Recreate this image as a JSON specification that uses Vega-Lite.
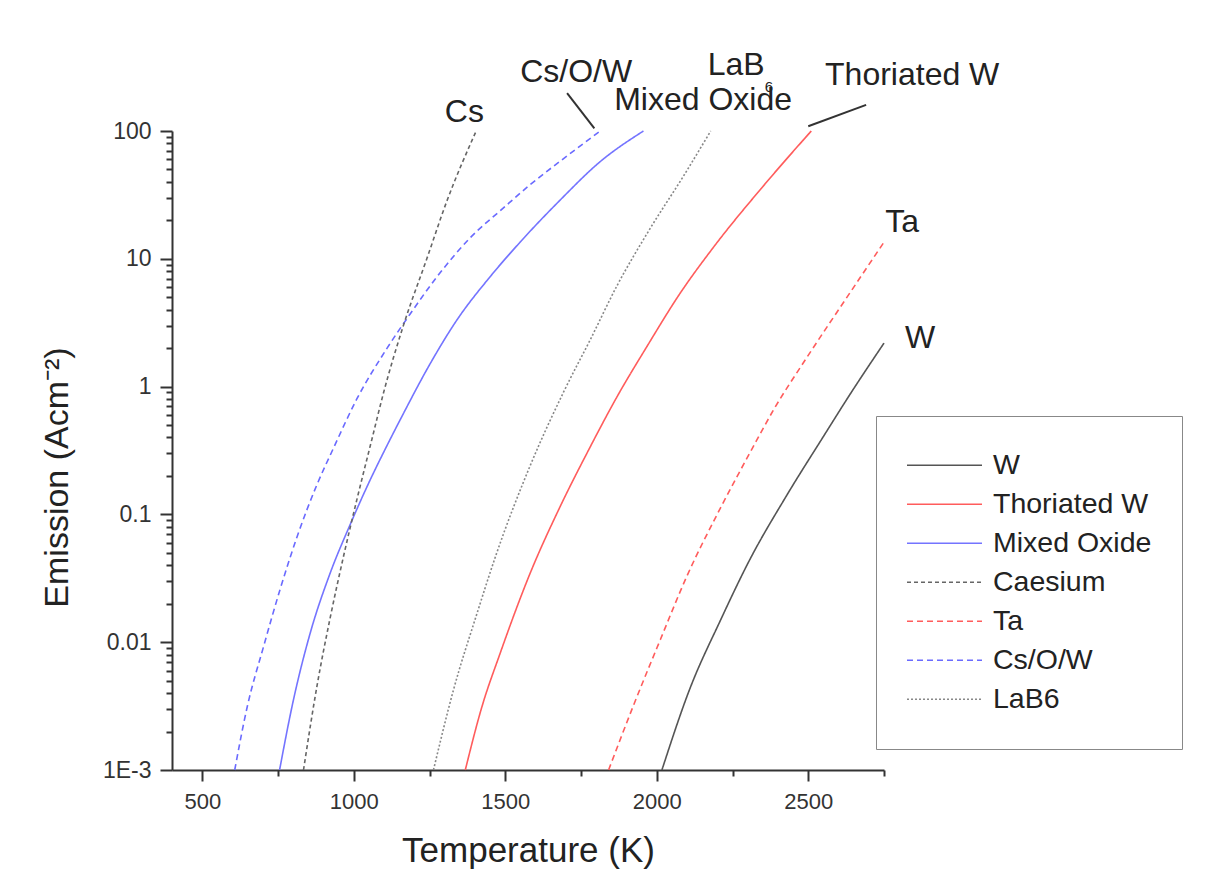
{
  "$schema": "https://vega.github.io/schema/vega-lite/v6.json",
  "width": 712,
  "height": 639,
  "autosize": {"type": "none"},
  "padding": {"left": 172, "top": 131, "right": 325, "bottom": 125},
  "background": "white",
  "config": {"view": {"stroke": null}, "font": "Liberation Sans"},
  "datasets": {
    "curves": [
      {"s": "Cs/O/W", "T": 607, "J": 0.001}, {"s": "Cs/O/W", "T": 648, "J": 0.0031}, {"s": "Cs/O/W", "T": 702, "J": 0.0092},
      {"s": "Cs/O/W", "T": 757, "J": 0.026}, {"s": "Cs/O/W", "T": 812, "J": 0.066}, {"s": "Cs/O/W", "T": 878, "J": 0.17},
      {"s": "Cs/O/W", "T": 933, "J": 0.33}, {"s": "Cs/O/W", "T": 1010, "J": 0.8}, {"s": "Cs/O/W", "T": 1110, "J": 2.0},
      {"s": "Cs/O/W", "T": 1186, "J": 3.7}, {"s": "Cs/O/W", "T": 1274, "J": 7.2}, {"s": "Cs/O/W", "T": 1383, "J": 14.5},
      {"s": "Cs/O/W", "T": 1494, "J": 25}, {"s": "Cs/O/W", "T": 1582, "J": 38}, {"s": "Cs/O/W", "T": 1681, "J": 58},
      {"s": "Cs/O/W", "T": 1813, "J": 100},
      {"s": "Mixed Oxide", "T": 755, "J": 0.001}, {"s": "Mixed Oxide", "T": 801, "J": 0.00355}, {"s": "Mixed Oxide", "T": 856, "J": 0.01175},
      {"s": "Mixed Oxide", "T": 922, "J": 0.0347}, {"s": "Mixed Oxide", "T": 988, "J": 0.0832}, {"s": "Mixed Oxide", "T": 1054, "J": 0.186},
      {"s": "Mixed Oxide", "T": 1110, "J": 0.347}, {"s": "Mixed Oxide", "T": 1164, "J": 0.617}, {"s": "Mixed Oxide", "T": 1252, "J": 1.51},
      {"s": "Mixed Oxide", "T": 1340, "J": 3.31}, {"s": "Mixed Oxide", "T": 1450, "J": 7.24}, {"s": "Mixed Oxide", "T": 1549, "J": 13.5},
      {"s": "Mixed Oxide", "T": 1681, "J": 28.8}, {"s": "Mixed Oxide", "T": 1813, "J": 57.5}, {"s": "Mixed Oxide", "T": 1956, "J": 100},
      {"s": "Caesium", "T": 834, "J": 0.001}, {"s": "Caesium", "T": 878, "J": 0.00447}, {"s": "Caesium", "T": 922, "J": 0.0155},
      {"s": "Caesium", "T": 966, "J": 0.0468}, {"s": "Caesium", "T": 1010, "J": 0.13}, {"s": "Caesium", "T": 1060, "J": 0.389},
      {"s": "Caesium", "T": 1098, "J": 0.891}, {"s": "Caesium", "T": 1164, "J": 3.02}, {"s": "Caesium", "T": 1241, "J": 10},
      {"s": "Caesium", "T": 1307, "J": 28.2}, {"s": "Caesium", "T": 1404, "J": 100},
      {"s": "LaB6", "T": 1263, "J": 0.001}, {"s": "LaB6", "T": 1329, "J": 0.00423}, {"s": "LaB6", "T": 1406, "J": 0.0166},
      {"s": "LaB6", "T": 1472, "J": 0.0501}, {"s": "LaB6", "T": 1582, "J": 0.24}, {"s": "LaB6", "T": 1693, "J": 0.912},
      {"s": "LaB6", "T": 1781, "J": 2.34}, {"s": "LaB6", "T": 1869, "J": 6.17}, {"s": "LaB6", "T": 1979, "J": 17.4},
      {"s": "LaB6", "T": 2089, "J": 44.7}, {"s": "LaB6", "T": 2178, "J": 100},
      {"s": "Thoriated W", "T": 1368, "J": 0.001}, {"s": "Thoriated W", "T": 1423, "J": 0.00313}, {"s": "Thoriated W", "T": 1483, "J": 0.00818},
      {"s": "Thoriated W", "T": 1582, "J": 0.0346}, {"s": "Thoriated W", "T": 1681, "J": 0.115}, {"s": "Thoriated W", "T": 1775, "J": 0.319},
      {"s": "Thoriated W", "T": 1869, "J": 0.834}, {"s": "Thoriated W", "T": 1967, "J": 2.05}, {"s": "Thoriated W", "T": 2077, "J": 5.37},
      {"s": "Thoriated W", "T": 2187, "J": 12.3}, {"s": "Thoriated W", "T": 2352, "J": 37.2}, {"s": "Thoriated W", "T": 2510, "J": 100},
      {"s": "Ta", "T": 1841, "J": 0.001}, {"s": "Ta", "T": 1924, "J": 0.00324}, {"s": "Ta", "T": 2012, "J": 0.0105},
      {"s": "Ta", "T": 2100, "J": 0.0331}, {"s": "Ta", "T": 2210, "J": 0.112}, {"s": "Ta", "T": 2314, "J": 0.324},
      {"s": "Ta", "T": 2386, "J": 0.661}, {"s": "Ta", "T": 2496, "J": 1.7}, {"s": "Ta", "T": 2628, "J": 5.01},
      {"s": "Ta", "T": 2750, "J": 13.5},
      {"s": "W", "T": 2017, "J": 0.001}, {"s": "W", "T": 2110, "J": 0.00437}, {"s": "W", "T": 2210, "J": 0.0148},
      {"s": "W", "T": 2308, "J": 0.0447}, {"s": "W", "T": 2429, "J": 0.141}, {"s": "W", "T": 2550, "J": 0.407},
      {"s": "W", "T": 2638, "J": 0.871}, {"s": "W", "T": 2750, "J": 2.19}
    ],
    "labels": [
      {"txt": "Cs", "T": 1365, "J": 141},
      {"txt": "Cs/O/W", "T": 1734, "J": 290},
      {"txt": "Mixed Oxide", "T": 2153, "J": 176},
      {"txt": "LaB", "T": 2262, "J": 328},
      {"txt": "Thoriated W", "T": 2843, "J": 274},
      {"txt": "Ta", "T": 2810, "J": 19.4},
      {"txt": "W", "T": 2869, "J": 2.4}
    ],
    "subs": [
      {"txt": "6", "T": 2370, "J": 220}
    ],
    "leaders": [
      {"T": 1704, "J": 198, "T2": 1794, "J2": 105},
      {"T": 2500, "J": 109, "T2": 2691, "J2": 160}
    ]
  },
  "encoding": {
    "x": {
      "field": "T", "type": "quantitative",
      "scale": {"domain": [400, 2750], "nice": false, "zero": false},
      "axis": {
        "title": "Temperature (K)",
        "values": [500, 750, 1000, 1250, 1500, 1750, 2000, 2250, 2500, 2750],
        "format": "d",
        "labelExpr": "datum.value % 500 == 0 ? datum.label : ''",
        "tickSize": {"condition": {"test": "datum.value % 500 == 0", "value": 11}, "value": 6},
        "grid": false,
        "labelOverlap": false,
        "labelFlush": false,
        "domainColor": "#333333", "domainWidth": 2,
        "tickColor": "#333333", "tickWidth": 2,
        "labelFont": "Liberation Sans", "labelFontSize": 22, "labelColor": "#333333", "labelPadding": 10,
        "titleFont": "Liberation Sans", "titleFontSize": 35, "titleFontWeight": "normal", "titleColor": "#222222", "titlePadding": 21
      }
    },
    "y": {
      "field": "J", "type": "quantitative",
      "scale": {"type": "log", "domain": [0.001, 100], "nice": false},
      "axis": {
        "title": "Emission (Acm⁻²)",
        "values": [0.001, 0.002, 0.003, 0.004, 0.005, 0.006, 0.007, 0.008, 0.009,
                   0.01, 0.02, 0.03, 0.04, 0.05, 0.06, 0.07, 0.08, 0.09,
                   0.1, 0.2, 0.3, 0.4, 0.5, 0.6, 0.7, 0.8, 0.9,
                   1, 2, 3, 4, 5, 6, 7, 8, 9,
                   10, 20, 30, 40, 50, 60, 70, 80, 90, 100],
        "format": "~g",
        "labelExpr": "datum.value == 0.001 ? '1E-3' : (indexof([0.01, 0.1, 1, 10, 100], datum.value) >= 0 ? datum.label : '')",
        "tickSize": {"condition": {"test": "indexof([0.001, 0.01, 0.1, 1, 10, 100], datum.value) >= 0", "value": 12}, "value": 6},
        "grid": false,
        "labelOverlap": false,
        "labelFlush": false,
        "domainColor": "#333333", "domainWidth": 2,
        "tickColor": "#333333", "tickWidth": 2,
        "labelFont": "Liberation Sans", "labelFontSize": 23, "labelColor": "#333333", "labelPadding": 9,
        "titleFont": "Liberation Sans", "titleFontSize": 34, "titleFontWeight": "normal", "titleColor": "#222222", "titlePadding": 28,
        "titleY": 346
      }
    }
  },
  "layer": [
    {
      "data": {"name": "curves"},
      "mark": {"type": "line", "interpolate": "monotone", "clip": false},
      "encoding": {
        "color": {
          "field": "s", "type": "nominal",
          "scale": {
            "domain": ["W", "Thoriated W", "Mixed Oxide", "Caesium", "Ta", "Cs/O/W", "LaB6"],
            "range": ["#555555", "#ff5c5c", "#7474ff", "#666666", "#ff5c5c", "#6a6aff", "#888888"]
          },
          "legend": {
            "title": null,
            "orient": "none",
            "legendX": 704,
            "legendY": 285,
            "strokeColor": "#888888",
            "padding": 30,
            "symbolType": "stroke",
            "symbolSize": 5625,
            "symbolStrokeWidth": 1.5,
            "labelFont": "Liberation Sans",
            "labelFontSize": 28.5,
            "labelColor": "#222222",
            "labelOffset": 10,
            "clipHeight": 38.5,
            "rowPadding": 0,
            "labelLimit": 300
          }
        },
        "strokeDash": {
          "field": "s", "type": "nominal",
          "scale": {
            "domain": ["W", "Thoriated W", "Mixed Oxide", "Caesium", "Ta", "Cs/O/W", "LaB6"],
            "range": [[1, 0], [1, 0], [1, 0], [4, 3], [6, 4], [6, 4], [2, 2]]
          },
          "legend": {"title": null}
        },
        "strokeWidth": {
          "field": "s", "type": "nominal",
          "scale": {
            "domain": ["W", "Thoriated W", "Mixed Oxide", "Caesium", "Ta", "Cs/O/W", "LaB6"],
            "range": [1.6, 1.6, 2.6, 1.6, 1.6, 2.2, 1.3]
          },
          "legend": null
        }
      }
    },
    {
      "data": {"name": "leaders"},
      "mark": {"type": "rule", "color": "#333333", "strokeWidth": 2, "clip": false},
      "encoding": {
        "x2": {"field": "T2"},
        "y2": {"field": "J2"}
      }
    },
    {
      "data": {"name": "labels"},
      "mark": {"type": "text", "font": "Liberation Sans", "fontSize": 32, "color": "#222222", "align": "center", "baseline": "middle", "clip": false},
      "encoding": {"text": {"field": "txt"}}
    },
    {
      "data": {"name": "subs"},
      "mark": {"type": "text", "font": "Liberation Sans", "fontSize": 15, "color": "#222222", "align": "center", "baseline": "middle", "clip": false},
      "encoding": {"text": {"field": "txt"}}
    }
  ]
}
